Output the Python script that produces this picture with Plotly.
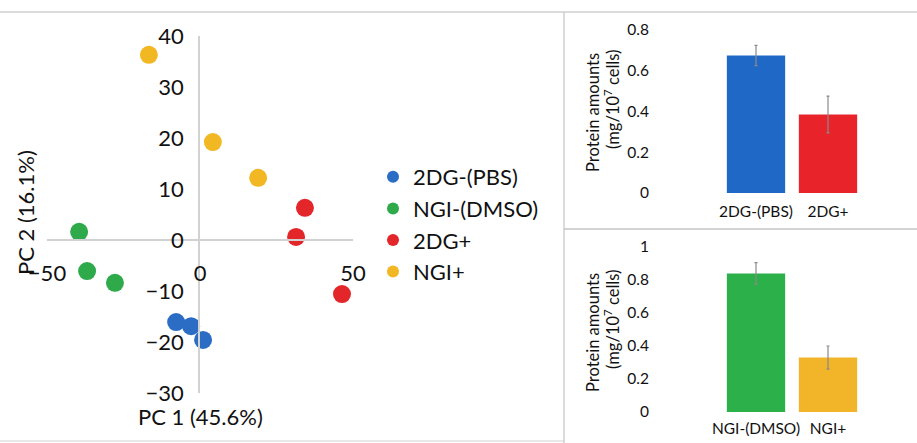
import plotly.graph_objects as go

W, H = 917, 443

# ---- data ----
groups = ["2DG-(PBS)", "NGI-(DMSO)", "2DG+", "NGI+"]
colors = ["#2B6CC4", "#2EAA4A", "#E3262A", "#F2B824"]
pc1 = {
    "2DG-(PBS)": [-7.8, -2.9, 1.0],
    "NGI-(DMSO)": [-39.5, -36.9, -27.8],
    "2DG+": [34.3, 31.4, 46.4],
    "NGI+": [-16.7, 4.2, 19.0],
}
pc2 = {
    "2DG-(PBS)": [-16.1, -16.9, -19.6],
    "NGI-(DMSO)": [1.6, -6.1, -8.4],
    "2DG+": [6.3, 0.6, -10.6],
    "NGI+": [36.3, 19.2, 12.2],
}
bar1_cats = ["2DG-(PBS)", "2DG+"]
bar1_vals = [0.675, 0.385]
bar1_err = [0.05, 0.09]
bar1_colors = ["#2068C6", "#E8242A"]
bar2_cats = ["NGI-(DMSO)", "NGI+"]
bar2_vals = [0.84, 0.33]
bar2_err = [0.065, 0.07]
bar2_colors = ["#2CB04A", "#F2B52A"]

FONT = "Lato"
TXT = "#111111"

def px(x):
    return x / W

def py(y):
    return 1 - y / H

fig = go.Figure()
for g, c in zip(groups, colors):
    fig.add_trace(go.Scatter(
        x=pc1[g], y=pc2[g], mode="markers", name=g, legendgroup=g,
        marker=dict(color=c, size=18, line=dict(width=0)),
        xaxis="x", yaxis="y",
    ))

fig.add_trace(go.Bar(
    x=bar1_cats, y=bar1_vals, marker=dict(color=bar1_colors, line=dict(width=0)),
    error_y=dict(type="data", array=bar1_err, color="#8a8a8a", thickness=1.2, width=1.5),
    showlegend=False, xaxis="x2", yaxis="y2",
))
fig.add_trace(go.Bar(
    x=bar2_cats, y=bar2_vals, marker=dict(color=bar2_colors, line=dict(width=0)),
    error_y=dict(type="data", array=bar2_err, color="#8a8a8a", thickness=1.2, width=1.5),
    showlegend=False, xaxis="x3", yaxis="y3",
))

axis_gray = "#d2d2d2"
title_l1 = "Protein amounts"
title_l2 = "(mg/10<sup>7</sup> cells)"


def vtitle(text, x, y, size):
    return dict(text=text, x=px(x), y=py(y), xref="paper", yref="paper",
                showarrow=False, xanchor="center", yanchor="middle", textangle=-90,
                font=dict(size=size, color=TXT))


fig.update_layout(
    width=W, height=H,
    margin=dict(l=0, r=0, t=0, b=0, pad=0, autoexpand=False),
    paper_bgcolor="white", plot_bgcolor="rgba(0,0,0,0)",
    font=dict(family=FONT, color=TXT),
    bargap=0.19,
    xaxis=dict(
        domain=[px(47), px(353)], range=[-50, 50], anchor="free",
        position=py(240), tickvals=[-50, 0, 50], ticks="",
        showline=True, linecolor=axis_gray, linewidth=1.5,
        showgrid=False, zeroline=False, ticklabelstandoff=14,
        tickfont=dict(size=22, color=TXT), automargin=False,
    ),
    yaxis=dict(
        domain=[py(393), py(36)], range=[-30, 40], anchor="free",
        position=px(199), dtick=10, tick0=0, ticks="",
        showline=True, linecolor=axis_gray, linewidth=1.5,
        showgrid=False, zeroline=False, ticklabelstandoff=10,
        tickfont=dict(size=22, color=TXT), automargin=False,
    ),
    xaxis2=dict(
        domain=[px(684), px(864)], range=[-1.0, 1.5], anchor="y2",
        ticks="", showline=False, showgrid=False, ticklabelstandoff=7,
        tickfont=dict(size=15.5, color=TXT), automargin=False,
    ),
    yaxis2=dict(
        domain=[py(193), py(30)], range=[0, 0.8], anchor="x2",
        tickvals=[0, 0.2, 0.4, 0.6, 0.8], ticktext=["0", "0.2", "0.4", "0.6", "0.8"],
        ticks="", showline=False, showgrid=False, zeroline=False,
        ticklabelstandoff=34, tickfont=dict(size=15.5, color=TXT), automargin=False,
    ),
    xaxis3=dict(
        domain=[px(684), px(864)], range=[-1.0, 1.5], anchor="y3",
        ticks="", showline=False, showgrid=False, ticklabelstandoff=5,
        tickfont=dict(size=15.5, color=TXT), automargin=False,
    ),
    yaxis3=dict(
        domain=[py(412), py(247)], range=[0, 1], anchor="x3",
        tickvals=[0, 0.2, 0.4, 0.6, 0.8, 1], ticktext=["0", "0.2", "0.4", "0.6", "0.8", "1"],
        ticks="", showline=False, showgrid=False, zeroline=False,
        ticklabelstandoff=34, tickfont=dict(size=15.5, color=TXT), automargin=False,
    ),
    legend=dict(
        x=px(373), y=py(156), xanchor="left", yanchor="top",
        font=dict(size=22, color=TXT), bgcolor="rgba(0,0,0,0)",
        itemsizing="constant", traceorder="grouped", tracegroupgap=0,
        itemwidth=30,
    ),
    annotations=[
        dict(text="PC 1 (45.6%)", x=px(200), y=py(416), xref="paper", yref="paper",
             showarrow=False, xanchor="center", yanchor="middle",
             font=dict(size=22, color=TXT)),
        vtitle("PC 2 (16.1%)", 26, 213, 22),
        vtitle(title_l1, 593, 113, 16.5),
        vtitle(title_l2, 612, 100, 16.5),
        vtitle(title_l1, 593, 333, 16.5),
        vtitle(title_l2, 612, 320, 16.5),
    ],
    shapes=[
        dict(type="line", xref="paper", yref="paper", x0=0, x1=px(564), y0=py(12), y1=py(12),
             line=dict(color="#cfcfcf", width=1.5)),
        dict(type="line", xref="paper", yref="paper", x0=0, x1=px(564), y0=py(441), y1=py(441),
             line=dict(color="#e2e2e2", width=1.5)),
        dict(type="line", xref="paper", yref="paper", x0=px(564), x1=px(564), y0=py(12), y1=py(443),
             line=dict(color="#cfcfcf", width=1.5)),
        dict(type="line", xref="paper", yref="paper", x0=px(564), x1=1, y0=py(12), y1=py(12),
             line=dict(color="#cfcfcf", width=1.5)),
        dict(type="line", xref="paper", yref="paper", x0=px(564), x1=1, y0=py(229), y1=py(229),
             line=dict(color="#c4c4c4", width=1.5)),
    ],
)

fig.write_html(
    "out.html",
    config={"displayModeBar": False},
    post_script="document.body.style.margin='0';document.body.style.overflow='hidden';",
)
